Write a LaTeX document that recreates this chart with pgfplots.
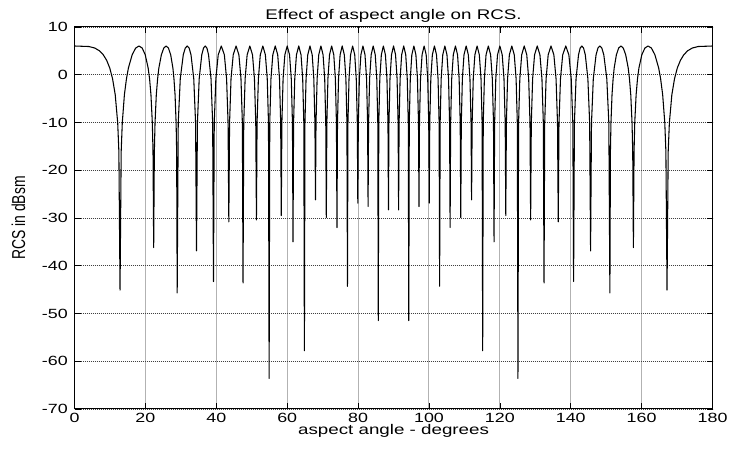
\documentclass[border=0pt]{standalone}
\usepackage{fontspec}
\setmainfont{Liberation Sans}[FakeStretch=1.34]
\newfontfamily\ylabfont{Liberation Sans}[FakeStretch=0.7463]
\usepackage{pgfplots}
\pgfplotsset{compat=1.18}
\pgfplotstableread{
x y
0 6.02
4.05 5.91
5.73 5.59
7.02 5.02
8.11 4.18
9.07 3.01
9.94 1.41
10.73 -0.84
11.48 -4.18
12.18 -10.09
12.51 -16.08
12.84 -45.1
13.16 -16.08
13.47 -10.09
14.07 -4.18
14.65 -0.84
15.20 1.41
16.26 4.18
17.25 5.59
18.19 6.02
19.09 5.59
19.95 4.18
20.77 1.41
21.17 -0.84
21.56 -4.18
21.95 -10.09
22.14 -16.08
22.33 -36.2
22.52 -16.08
22.71 -10.09
23.07 -4.18
23.44 -0.84
23.79 1.41
24.50 4.18
25.18 5.59
25.84 6.02
26.49 5.59
27.13 4.18
27.75 1.41
28.05 -0.84
28.36 -4.18
28.66 -10.09
28.81 -16.08
28.96 -45.7
29.26 -10.09
29.83 -0.84
30.68 4.18
31.24 5.59
31.79 6.02
32.33 5.59
32.86 4.18
33.64 -0.84
34.15 -10.09
34.41 -36.9
34.67 -10.09
35.17 -0.84
35.90 4.18
36.39 5.59
36.87 6.02
37.35 5.59
37.81 4.18
38.51 -0.84
38.97 -10.09
39.20 -43.3
39.42 -10.09
39.87 -0.84
40.54 4.18
41.41 6.02
42.27 4.18
42.90 -0.84
43.32 -10.09
43.53 -30.8
43.74 -10.09
44.15 -0.84
44.77 4.18
45.57 6.02
46.37 4.18
46.96 -0.84
47.35 -10.09
47.54 -43.6
47.74 -10.09
48.13 -0.84
48.70 4.18
49.46 6.02
50.21 4.18
50.76 -0.84
51.13 -10.09
51.32 -30.4
51.50 -10.09
51.87 -0.84
52.41 4.18
53.13 6.02
53.84 4.18
54.37 -0.84
54.72 -10.09
54.90 -63.6
55.08 -10.09
55.42 -0.84
55.94 4.18
56.63 6.02
57.32 4.18
57.83 -0.84
58.16 -10.09
58.33 -29.5
58.50 -10.09
58.84 -0.84
59.34 4.18
60.00 6.02
60.66 4.18
61.15 -0.84
61.48 -10.09
61.64 -35.0
61.80 -10.09
62.13 -0.84
62.61 4.18
63.26 6.02
63.90 4.18
64.37 -0.84
64.69 -10.09
64.85 -57.8
65.01 -10.09
65.32 -0.84
65.80 4.18
66.42 6.02
67.05 4.18
67.51 -0.84
67.82 -10.09
67.98 -26.2
68.13 -10.09
68.44 -0.84
68.90 4.18
69.51 6.02
70.12 4.18
70.58 -0.84
70.88 -10.09
71.03 -29.9
71.19 -10.09
71.49 -0.84
71.94 4.18
72.54 6.02
73.14 4.18
73.59 -0.84
73.89 -10.09
74.04 -32.0
74.19 -10.09
74.48 -0.84
74.93 4.18
75.52 6.02
76.11 4.18
76.56 -0.84
76.85 -10.09
77.00 -44.3
77.14 -10.09
77.44 -0.84
77.88 4.18
78.46 6.02
79.05 4.18
79.48 -0.84
79.78 -10.09
79.92 -26.9
80.07 -10.09
80.36 -0.84
80.79 4.18
81.37 6.02
81.95 4.18
82.39 -0.84
82.68 -10.09
82.82 -27.6
82.96 -10.09
83.25 -0.84
83.69 4.18
84.26 6.02
84.84 4.18
85.27 -0.84
85.56 -10.09
85.70 -51.5
85.84 -10.09
86.13 -0.84
86.56 4.18
87.13 6.02
87.71 4.18
88.14 -0.84
88.43 -10.09
88.57 -28.3
88.71 -10.09
89.00 -0.84
89.43 4.18
90.00 6.02
90.57 4.18
91.00 -0.84
91.29 -10.09
91.43 -28.3
91.57 -10.09
91.86 -0.84
92.29 4.18
92.87 6.02
93.44 4.18
93.87 -0.84
94.16 -10.09
94.30 -51.5
94.44 -10.09
94.73 -0.84
95.16 4.18
95.74 6.02
96.31 4.18
96.75 -0.84
97.04 -10.09
97.18 -27.6
97.32 -10.09
97.61 -0.84
98.05 4.18
98.63 6.02
99.21 4.18
99.64 -0.84
99.93 -10.09
100.08 -26.9
100.22 -10.09
100.52 -0.84
100.95 4.18
101.54 6.02
102.12 4.18
102.56 -0.84
102.86 -10.09
103.00 -44.3
103.15 -10.09
103.44 -0.84
103.89 4.18
104.48 6.02
105.07 4.18
105.52 -0.84
105.81 -10.09
105.96 -32.0
106.11 -10.09
106.41 -0.84
106.86 4.18
107.46 6.02
108.06 4.18
108.51 -0.84
108.81 -10.09
108.97 -29.9
109.12 -10.09
109.42 -0.84
109.88 4.18
110.49 6.02
111.10 4.18
111.56 -0.84
111.87 -10.09
112.02 -26.2
112.18 -10.09
112.49 -0.84
112.95 4.18
113.58 6.02
114.20 4.18
114.68 -0.84
114.99 -10.09
115.15 -57.8
115.31 -10.09
115.63 -0.84
116.10 4.18
116.74 6.02
117.39 4.18
117.87 -0.84
118.20 -10.09
118.36 -35.0
118.52 -10.09
118.85 -0.84
119.34 4.18
120.00 6.02
120.66 4.18
121.16 -0.84
121.50 -10.09
121.67 -29.5
121.84 -10.09
122.17 -0.84
122.68 4.18
123.37 6.02
124.06 4.18
124.58 -0.84
124.92 -10.09
125.10 -63.6
125.28 -10.09
125.63 -0.84
126.16 4.18
126.87 6.02
127.59 4.18
128.13 -0.84
128.50 -10.09
128.68 -30.4
128.87 -10.09
129.24 -0.84
129.79 4.18
130.54 6.02
131.30 4.18
131.87 -0.84
132.26 -10.09
132.46 -43.6
132.65 -10.09
133.04 -0.84
133.63 4.18
134.43 6.02
135.23 4.18
135.85 -0.84
136.26 -10.09
136.47 -30.8
136.68 -10.09
137.10 -0.84
137.73 4.18
138.59 6.02
139.46 4.18
140.13 -0.84
140.58 -10.09
140.80 -43.3
141.03 -10.09
141.49 -0.84
142.19 4.18
142.65 5.59
143.13 6.02
143.61 5.59
144.10 4.18
144.83 -0.84
145.33 -10.09
145.59 -36.9
145.85 -10.09
146.36 -0.84
147.14 4.18
147.67 5.59
148.21 6.02
148.76 5.59
149.32 4.18
150.17 -0.84
150.74 -10.09
151.04 -45.7
151.19 -16.08
151.34 -10.09
151.64 -4.18
151.95 -0.84
152.25 1.41
152.87 4.18
153.51 5.59
154.16 6.02
154.82 5.59
155.50 4.18
156.21 1.41
156.56 -0.84
156.93 -4.18
157.29 -10.09
157.48 -16.08
157.67 -36.2
157.86 -16.08
158.05 -10.09
158.44 -4.18
158.83 -0.84
159.23 1.41
160.05 4.18
160.91 5.59
161.81 6.02
162.75 5.59
163.74 4.18
164.80 1.41
165.35 -0.84
165.93 -4.18
166.53 -10.09
166.84 -16.08
167.16 -45.1
167.49 -16.08
167.82 -10.09
168.52 -4.18
169.27 -0.84
170.06 1.41
170.93 3.01
171.89 4.18
172.98 5.02
174.27 5.59
175.95 5.91
180 6.02
}\rcsdata
\begin{document}
\begin{tikzpicture}
\begin{axis}[name=ax, scale only axis, width=478.5pt, height=286.5pt,
  xmin=0, xmax=180, ymin=-70, ymax=10,
  xtick={0,20,40,60,80,100,120,140,160,180},
  ytick={-70,-60,-50,-40,-30,-20,-10,0,10},
  xticklabels={0,20,40,60,80,100,120,140,160,180},
  yticklabels={-70,-60,-50,-40,-30,-20,-10,0,10},
  tick align=inside, major tick length=4.5pt,
  tick style={black, line width=0.5pt},
  axis line style={black, line width=0.75pt},
  xmajorgrids, ymajorgrids,
  x grid style={gray!60, line width=0.75pt},
  y grid style={black!75, line width=0.5pt, dash pattern=on 0.6pt off 0.9pt},
  ticklabel style={font=\fontsize{10}{12}\selectfont},
  xticklabel style={yshift=0.5pt},
  yticklabel style={xshift=-1.5pt},
  every axis title shift=0pt,
  title={Effect of aspect angle on RCS.},
  title style={font=\fontsize{10.5}{12}\selectfont, at={(axis description cs:0.5,1.0202)}, anchor=base},
  xlabel={aspect angle - degrees},
  xlabel style={font=\fontsize{10.5}{12}\selectfont, at={(axis description cs:0.5,-0.0576)}, anchor=center},
  ylabel={RCS in dBsm},
  ylabel style={font=\ylabfont\fontsize{14}{16}\selectfont, at={(axis description cs:-0.0776,0.5)}, anchor=base},
]
\addplot[black, line width=0.8pt, line join=round] table[x=x, y=y] {\rcsdata};
\end{axis}
\pgfresetboundingbox
\path (ax.south west) ++(-55.9pt,-32pt) rectangle ++(547.5pt,338.75pt);
\end{tikzpicture}
\end{document}
